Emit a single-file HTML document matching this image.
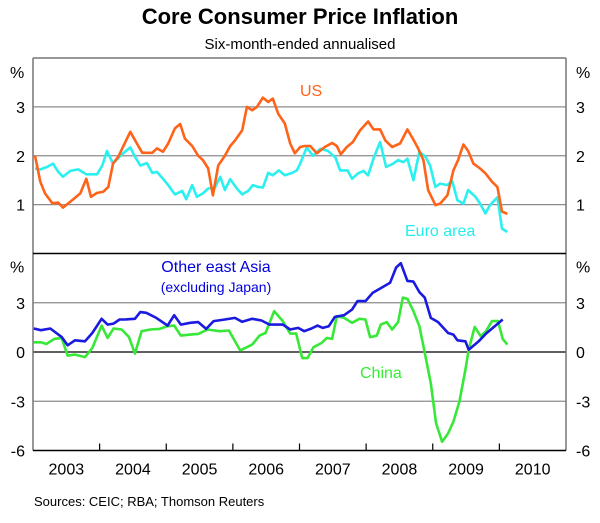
<!DOCTYPE html>
<html><head><meta charset="utf-8"><style>
body{margin:0;background:#fff;}
svg text{font-family:"Liberation Sans",Arial,sans-serif;}
</style></head><body>
<svg id="chart" width="600" height="518" viewBox="0 0 600 518" xmlns="http://www.w3.org/2000/svg">
<text x="300" y="24" text-anchor="middle" font-size="22" font-weight="bold">Core Consumer Price Inflation</text>
<text x="300" y="49" text-anchor="middle" font-size="15">Six-month-ended annualised</text>
<g id="grid"></g>
<g id="series"></g>
<g id="frame"></g>
<g id="labels"></g>
<text x="300" y="96" font-size="16" fill="#ff6319">US</text>
<text x="405" y="236" font-size="16" fill="#22eeee">Euro area</text>
<text x="216" y="272" text-anchor="middle" font-size="16" fill="#0000dd">Other east Asia</text>
<text x="216" y="292" text-anchor="middle" font-size="14" fill="#0000dd">(excluding Japan)</text>
<text x="360" y="378" font-size="16" fill="#33ee33">China</text>
<text x="34" y="506" font-size="13">Sources: CEIC; RBA; Thomson Reuters</text>
</svg>
<script>
const yearLabels=["2003","2004","2005","2006","2007","2008","2009","2010"];
const topTicks=[1,2,3];
const botTicks=[-6,-3,0,3];
const usDates=[2003.03,2003.11,2003.18,2003.29,2003.38,2003.45,2003.56,2003.71,2003.80,2003.87,2003.96,2004.05,2004.13,2004.20,2004.28,2004.35,2004.46,2004.56,2004.64,2004.79,2004.86,2004.95,2005.03,2005.13,2005.21,2005.28,2005.39,2005.48,2005.55,2005.63,2005.70,2005.78,2005.88,2005.96,2006.03,2006.14,2006.21,2006.29,2006.36,2006.45,2006.53,2006.60,2006.68,2006.78,2006.86,2006.93,2007.01,2007.08,2007.16,2007.26,2007.38,2007.49,2007.56,2007.62,2007.71,2007.80,2007.91,2008.03,2008.11,2008.21,2008.29,2008.39,2008.51,2008.62,2008.71,2008.78,2008.86,2008.93,2009.04,2009.11,2009.22,2009.31,2009.38,2009.46,2009.53,2009.61,2009.71,2009.79,2009.89,2009.97,2010.04,2010.12];
const usValues=[2.0,1.47,1.23,1.03,1.04,0.94,1.06,1.23,1.53,1.16,1.24,1.26,1.36,1.84,1.98,2.18,2.49,2.25,2.06,2.06,2.15,2.08,2.25,2.56,2.65,2.35,2.2,2.0,1.91,1.74,1.19,1.8,2.0,2.2,2.31,2.52,3.0,2.93,3.0,3.19,3.1,3.17,2.86,2.66,2.25,2.05,2.18,2.2,2.2,2.05,2.18,2.26,2.2,2.03,2.18,2.28,2.52,2.7,2.54,2.54,2.31,2.18,2.25,2.54,2.33,2.15,1.91,1.3,0.99,1.02,1.19,1.7,1.91,2.23,2.1,1.84,1.74,1.64,1.47,1.36,0.86,0.81];
const euDates=[2003.03,2003.11,2003.21,2003.30,2003.38,2003.45,2003.56,2003.68,2003.80,2003.96,2004.04,2004.11,2004.20,2004.31,2004.46,2004.53,2004.61,2004.71,2004.79,2004.86,2004.95,2005.03,2005.13,2005.24,2005.30,2005.39,2005.46,2005.55,2005.63,2005.73,2005.81,2005.88,2005.96,2006.06,2006.14,2006.23,2006.30,2006.38,2006.45,2006.53,2006.60,2006.69,2006.78,2006.89,2006.96,2007.01,2007.11,2007.20,2007.31,2007.43,2007.54,2007.61,2007.72,2007.79,2007.88,2007.96,2008.03,2008.12,2008.21,2008.30,2008.41,2008.48,2008.56,2008.62,2008.71,2008.80,2008.89,2008.96,2009.04,2009.11,2009.22,2009.29,2009.37,2009.46,2009.53,2009.64,2009.71,2009.79,2009.86,2009.97,2010.04,2010.12];
const euValues=[1.74,1.72,1.77,1.84,1.67,1.57,1.69,1.72,1.62,1.62,1.8,2.1,1.84,2.0,2.17,1.98,1.8,1.85,1.65,1.67,1.53,1.4,1.21,1.28,1.11,1.4,1.16,1.23,1.33,1.35,1.57,1.3,1.52,1.33,1.21,1.28,1.4,1.36,1.35,1.65,1.6,1.7,1.6,1.65,1.7,1.84,2.17,2.0,2.14,2.1,1.96,1.7,1.7,1.53,1.64,1.69,1.6,1.98,2.28,1.77,1.84,1.91,1.87,1.94,1.5,2.08,1.98,1.8,1.36,1.43,1.4,1.49,1.09,1.02,1.3,1.16,1.02,0.82,0.99,1.15,0.51,0.44];
const asiaDates=[2003.01,2003.12,2003.26,2003.35,2003.43,2003.52,2003.63,2003.78,2003.89,2004.03,2004.12,2004.21,2004.30,2004.38,2004.53,2004.61,2004.70,2004.85,2005.02,2005.12,2005.22,2005.36,2005.48,2005.60,2005.71,2005.88,2006.03,2006.14,2006.29,2006.43,2006.55,2006.75,2006.86,2006.98,2007.07,2007.18,2007.27,2007.35,2007.44,2007.53,2007.67,2007.79,2007.87,2007.99,2008.10,2008.25,2008.36,2008.45,2008.52,2008.62,2008.71,2008.80,2008.88,2008.97,2009.08,2009.23,2009.31,2009.37,2009.49,2009.54,2009.69,2009.80,2009.92,2010.05];
const asiaValues=[1.43,1.33,1.43,1.16,0.92,0.41,0.71,0.65,1.16,2.02,1.67,1.73,1.98,1.98,2.02,2.43,2.39,2.08,1.61,2.24,1.67,1.78,1.82,1.41,1.88,1.98,2.08,1.84,2.02,1.92,1.67,1.67,1.37,1.47,1.27,1.43,1.61,1.47,1.57,2.14,2.24,2.59,3.1,3.1,3.61,3.96,4.22,5.14,5.41,4.33,4.29,3.65,3.31,2.08,1.82,1.16,1.06,0.71,0.65,0.14,0.65,1.12,1.53,1.98];
const chinaDates=[2003.01,2003.12,2003.20,2003.32,2003.43,2003.52,2003.63,2003.78,2003.89,2004.03,2004.12,2004.21,2004.33,2004.44,2004.53,2004.63,2004.76,2004.90,2005.02,2005.12,2005.22,2005.36,2005.48,2005.62,2005.80,2005.94,2006.11,2006.29,2006.40,2006.49,2006.62,2006.75,2006.86,2006.95,2007.04,2007.12,2007.21,2007.33,2007.41,2007.49,2007.56,2007.67,2007.79,2007.90,2007.99,2008.06,2008.16,2008.22,2008.31,2008.39,2008.48,2008.55,2008.62,2008.71,2008.80,2008.88,2008.97,2009.05,2009.14,2009.23,2009.31,2009.40,2009.49,2009.54,2009.63,2009.72,2009.80,2009.89,2009.98,2010.05,2010.12];
const chinaValues=[0.59,0.59,0.49,0.8,0.86,-0.22,-0.16,-0.31,0.24,1.61,0.86,1.43,1.37,0.92,-0.1,1.27,1.37,1.41,1.57,1.61,1.0,1.06,1.1,1.37,1.27,1.31,0.1,0.45,1.0,1.16,2.49,1.88,1.12,1.12,-0.37,-0.37,0.29,0.55,0.86,0.8,2.18,2.08,1.78,2.02,1.98,0.9,1.0,1.67,1.82,1.37,1.82,3.31,3.24,2.49,1.57,-0.06,-1.9,-4.35,-5.47,-4.96,-4.24,-3.02,-1.08,0.14,1.53,0.96,1.27,1.88,1.88,0.8,0.45];

const L=33,R=566,T=58,MID=253.5,B=450.5;
const NS="http://www.w3.org/2000/svg";
function x(d){return L+(d-2003)/8*(R-L);}
function yTop(v){return MID-(v/4)*(MID-T);}
function yBot(v){return B-(v+6)/12*(B-MID);}
function mk(tag,attrs,parent){const e=document.createElementNS(NS,tag);for(const k in attrs)e.setAttribute(k,attrs[k]);parent.appendChild(e);return e;}
const grid=document.getElementById('grid'),frame=document.getElementById('frame'),labels=document.getElementById('labels'),series=document.getElementById('series');

topTicks.forEach(v=>{
  const ln=mk('line',{x1:L,x2:R,y1:yTop(v),y2:yTop(v),stroke:'#8c8c8c','stroke-width':1.3},grid);
  
  
  [[L-16,'end'],[R+10,'start']].forEach(p=>{
    const t=mk('text',{x:p[0]+(p[1]=='end'?8:0),y:yTop(v)+6,'font-size':16,'text-anchor':p[1]},labels);
    t.textContent=v;
    
    
  });
});
botTicks.forEach(v=>{
  if(v!==-6){
    const ln=mk('line',{x1:L,x2:R,y1:yBot(v),y2:yBot(v),stroke:(v===0?'#000':'#8c8c8c'),'stroke-width':1.3},grid);
    
    
  }
  [[L-8,'end'],[R+10,'start']].forEach(p=>{
    const t=mk('text',{x:p[0],y:yBot(v)+6,'font-size':16,'text-anchor':p[1]},labels);
    t.textContent=v;
    
    
  });
});
[[T+20],[MID+19]].forEach(p=>{
  [[10,'start'],[R+10,'start']].forEach(q=>{
    const t=mk('text',{x:q[0],y:p[0],'font-size':16,'text-anchor':q[1]},labels);
    t.textContent='%';
    
    
  });
});
yearLabels.forEach((lab,i)=>{
  const yr=2003+i;
  const t=mk('text',{x:x(yr+0.5),y:B+24,'font-size':16,'text-anchor':'middle'},labels);
  t.textContent=lab;
  
  
  if(i>0){
    const tk=mk('line',{x1:x(yr),x2:x(yr),y1:B,y2:B-7,stroke:'#000','stroke-width':1.2},frame);
    
    
  }
});
function line(dates,vals,fy,color,name){
  const pts=dates.map((d,i)=>x(d).toFixed(1)+','+fy(vals[i]).toFixed(1)).join(' ');
  const p=mk('polyline',{points:pts,fill:'none',stroke:color,'stroke-width':2.6,'stroke-linejoin':'round'},series);
  
  
}
line(euDates,euValues,yTop,'#2af0f0','euro-area-line');
line(usDates,usValues,yTop,'#ff6319','us-line');
line(chinaDates,chinaValues,yBot,'#38e838','china-line');
line(asiaDates,asiaValues,yBot,'#1a1ae0','other-east-asia-line');
const fr=[[L,T,L,B,'#777'],[R,T,R,B,'#777'],[L,T,R,T,'#777'],[L,MID,R,MID,'#000'],[L,B,R,B,'#000']];
fr.forEach(f=>{
  const ln=mk('line',{x1:f[0],y1:f[1],x2:f[2],y2:f[3],stroke:f[4],'stroke-width':1.5},frame);
  
  
});
</script>
</body></html>
